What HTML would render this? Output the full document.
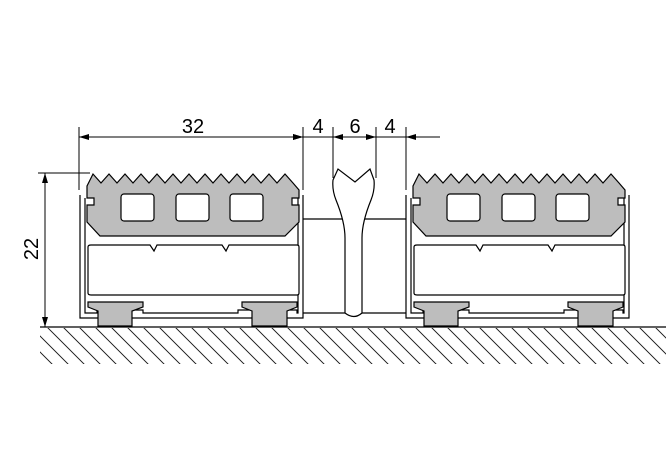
<!DOCTYPE html>
<html><head><meta charset="utf-8"><style>html,body{margin:0;padding:0;background:#fff}svg{display:block}</style></head><body>
<svg width="670" height="450" viewBox="0 0 670 450" xmlns="http://www.w3.org/2000/svg" font-family="Liberation Sans, sans-serif">
<defs>
<pattern id="h" width="16" height="40" patternUnits="userSpaceOnUse" patternTransform="skewX(45)">
<line x1="8" y1="0" x2="8" y2="40" stroke="#000" stroke-width="1.2"/>
</pattern>
<marker id="a" viewBox="0 0 10 6" refX="10" refY="3" markerWidth="10" markerHeight="6" orient="auto-start-reverse" markerUnits="userSpaceOnUse"><path d="M0,0L10,3L0,6z" fill="#000"/></marker>
<g id="m" stroke="#000" stroke-width="1.2">
<!-- frame -->
<path d="M80,195 L80,318 L303,318 L303,195" fill="none"/>
<path d="M85,198 L85,313 L97,313 L97,310 L143,310 L143,313 L238,313 L238,310 L297,310 L297,313 L298,313 L298,198" fill="none"/>
<!-- tread -->
<path d="M87,186 L93,174 L101,183 L109,174 L117,183 L125,174 L133,183 L141,174 L149,183 L157,174 L165,183 L173,174 L181,183 L189,174 L197,183 L205,174 L213,183 L221,174 L229,183 L237,174 L245,183 L253,174 L261,183 L269,174 L277,183 L285,174 L293,183 L299,190 L299,198 L292,198 L292,205 L299,205 L299,222 L285,236 L100,236 L87,222 L87,205 L94,205 L94,198 L87,198 Z" fill="#bdbdbd"/>
<rect x="121" y="194" width="33" height="27" rx="3" fill="#fff"/>
<rect x="176" y="194" width="33" height="27" rx="3" fill="#fff"/>
<rect x="230" y="194" width="33" height="27" rx="3" fill="#fff"/>
<!-- lower chamber -->
<path d="M91,245 L150,245 L154,251 L157,245 L222,245 L226,251 L229,245 L297,245 Q299,245 299,247 L299,293 Q299,295 297,295 L91,295 Q88,295 88,293 L88,247 Q88,245 91,245 Z" fill="#fff"/>
<!-- feet -->
<path d="M88,302 L143,302 L143,307 L132,311 L132,326 L98,326 L98,311 L88,307 Z" fill="#bdbdbd"/>
<path d="M242,302 L297,302 L297,307 L287,311 L287,326 L252,326 L252,311 L242,307 Z" fill="#bdbdbd"/>
</g>
</defs>
<use href="#m"/>
<use href="#m" transform="translate(326,0)"/>
<!-- connector lines -->
<g stroke="#000" stroke-width="1.2" fill="none">
<line x1="303" y1="219" x2="406" y2="219"/>
<line x1="303" y1="313" x2="406" y2="313"/>
<path d="M345,313 L345,238 Q345,222 336,200 Q332,190 333,180 L338,169 L355,182 L370,169 L374,180 Q375,190 371,200 Q362,222 362,238 L362,313 Q354,320 345,313 Z" fill="#fff"/>
</g>
<!-- ground -->
<rect x="40" y="328" width="626" height="36" fill="url(#h)"/>
<line x1="40" y1="327" x2="666" y2="327" stroke="#000" stroke-width="1.2"/>
<!-- dimensions -->
<g stroke="#000" stroke-width="1">
<line x1="79" y1="127" x2="79" y2="190"/>
<line x1="303" y1="127" x2="303" y2="190"/>
<line x1="333" y1="127" x2="333" y2="178"/>
<line x1="376" y1="127" x2="376" y2="178"/>
<line x1="406" y1="127" x2="406" y2="190"/>
<line x1="79" y1="137" x2="303" y2="137" marker-start="url(#a)" marker-end="url(#a)"/>
<line x1="290" y1="137" x2="303" y2="137" marker-end="url(#a)"/>
<line x1="303" y1="137" x2="333" y2="137"/>
<line x1="333" y1="137" x2="376" y2="137" marker-start="url(#a)" marker-end="url(#a)"/>
<line x1="376" y1="137" x2="406" y2="137"/>
<line x1="406" y1="137" x2="440" y2="137" marker-start="url(#a)"/>
<line x1="38" y1="173" x2="90" y2="173"/>
<line x1="45" y1="173" x2="45" y2="327" marker-start="url(#a)" marker-end="url(#a)"/>
</g>
<g font-size="20" fill="#000" text-anchor="middle">
<text x="193" y="133">32</text>
<text x="318" y="133">4</text>
<text x="355" y="133">6</text>
<text x="390" y="133">4</text>
<text transform="translate(38,249) rotate(-90)">22</text>
</g>
</svg>
</body></html>
